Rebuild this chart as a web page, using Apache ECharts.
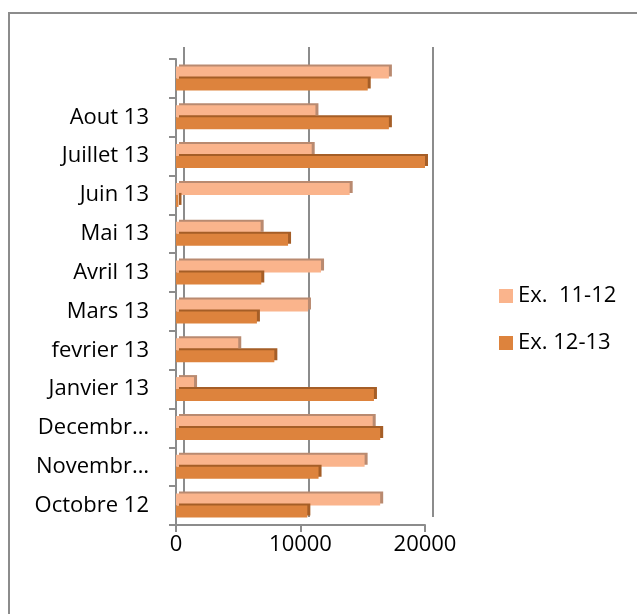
<!DOCTYPE html>
<html><head><meta charset="utf-8">
<script src="https://cdn.jsdelivr.net/npm/echarts@6/dist/echarts.min.js"></script>
<style>html,body{margin:0;padding:0;background:#fff}#c{width:637px;height:614px}</style>
</head><body><div id="c"></div>
<script>
const categories = ['Octobre 12','Novembr…','Decembr…','Janvier 13','fevrier 13','Mars 13','Avril 13','Mai 13','Juin 13','Juillet 13','Aout 13',''];
const ex1112 = [16400,15150,15800,1450,5000,10600,11650,6800,13950,10900,11200,17100];
const ex1213 = [10550,11450,16400,15900,7900,6500,6850,9000,200,20000,17100,15400];
const ticks = [0,10000,20000];

const FONT = 'Open Sans';
const chart = echarts.init(document.getElementById('c'), null, {renderer:'canvas'});
chart.setOption({
  animation:false,
  textStyle:{fontFamily:FONT},
  graphic:[
    {type:'rect', shape:{x:9,y:13,width:700,height:700}, style:{fill:'none',stroke:'#8c8c8c',lineWidth:2}, z:-10}
  ],
  legend:{
    orient:'vertical', left:494, top:280, itemWidth:14, itemHeight:14, itemGap:25,
    icon:'rect',
    textStyle:{fontSize:22, color:'#000', fontFamily:FONT},
    data:['Ex.  11-12','Ex. 12-13']
  },
  grid:[
    {left:176, right:212, top:59, bottom:89},
    {left:184, right:204, top:47, bottom:97}
  ],
  xAxis:[
    {type:'value', gridIndex:0, min:0, max:20000, interval:10000,
     axisLine:{show:true, lineStyle:{color:'#8c8c8c', width:2}},
     axisTick:{show:true, length:7, lineStyle:{color:'#8c8c8c', width:2}},
     axisLabel:{fontSize:22, color:'#000', margin:9, fontFamily:FONT, formatter:(v)=>String(v)},
     splitLine:{show:false}},
    {type:'value', gridIndex:1, min:0, max:20000, interval:10000,
     axisLine:{show:false}, axisTick:{show:false}, axisLabel:{show:false},
     splitLine:{show:true, lineStyle:{color:'#8c8c8c', width:2}}}
  ],
  yAxis:[
    {type:'category', gridIndex:0, data:categories,
     axisLine:{show:true, lineStyle:{color:'#8c8c8c', width:2}},
     axisTick:{show:true, length:7, lineStyle:{color:'#8c8c8c', width:2}},
     axisLabel:{fontSize:22, color:'#000', margin:27, fontFamily:FONT}},
    {type:'category', gridIndex:1, data:categories, show:false}
  ],
  series:[
    {name:'Ex.  11-12', type:'bar', xAxisIndex:0, yAxisIndex:0, data:ex1112,
     barWidth:12, barGap:'0%',
     itemStyle:{color:'#FAB48C', shadowColor:'#B98A70', shadowOffsetX:3, shadowOffsetY:-2, shadowBlur:0}},
    {name:'Ex. 12-13', type:'bar', xAxisIndex:0, yAxisIndex:0, data:ex1213,
     barWidth:12, barGap:'0%',
     itemStyle:{color:'#DD833D', shadowColor:'#A55E27', shadowOffsetX:3, shadowOffsetY:-2, shadowBlur:0}}
  ]
});
</script></body></html>
